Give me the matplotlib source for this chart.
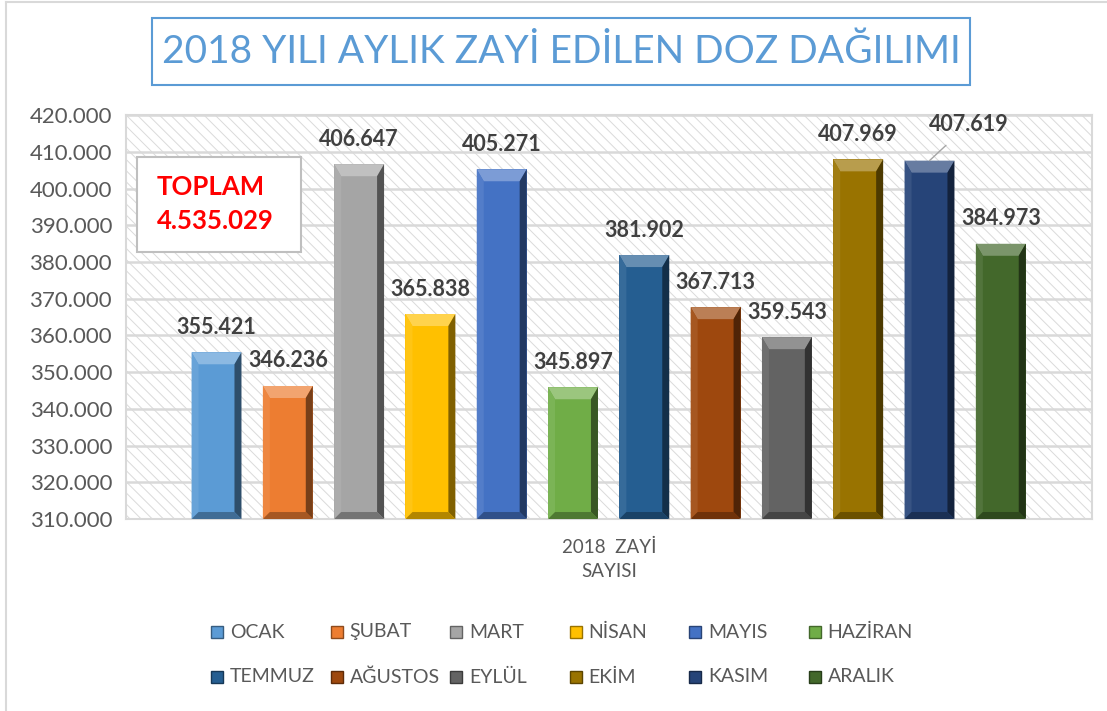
import matplotlib
matplotlib.use("Agg")
import matplotlib.pyplot as plt
from matplotlib.patches import Rectangle, Polygon
from matplotlib.lines import Line2D
from matplotlib.ticker import FuncFormatter
from matplotlib.colors import to_rgb
import numpy as np

plt.rcParams['font.family'] = ['Lato', 'DejaVu Sans']
plt.rcParams['hatch.color'] = '#DADADA'
plt.rcParams['hatch.linewidth'] = 0.7

# veriler
months = ["OCAK", "ŞUBAT", "MART", "NİSAN", "MAYIS", "HAZİRAN",
          "TEMMUZ", "AĞUSTOS", "EYLÜL", "EKİM", "KASIM", "ARALIK"]
values = [355421, 346236, 406647, 365838, 405271, 345897,
          381902, 367713, 359543, 407969, 407619, 384973]
colors = ["#5B9BD5", "#ED7D31", "#A5A5A5", "#FFC000", "#4472C4", "#70AD47",
          "#255E91", "#9E480E", "#636363", "#997300", "#264478", "#43682B"]
total_text = "TOPLAM\n4.535.029"
title = "2018 YILI AYLIK ZAYİ EDİLEN DOZ DAĞILIMI"
xlabel = "2018  ZAYİ\nSAYISI"


def fmt(v):
    return "{:,.0f}".format(v).replace(",", ".")


def mix(c, other, t):
    c = np.array(to_rgb(c))
    o = np.array(to_rgb(other))
    return tuple(c * (1 - t) + o * t)


def bevel(ax, bar, color, b=7, bt=12):
    ymin = ax.get_ylim()[0]
    x0, y0 = bar.get_x(), max(bar.get_y(), ymin)
    x1, y1 = x0 + bar.get_width(), bar.get_y() + bar.get_height()
    (L, B), (R, T) = ax.transData.transform([(x0, y0), (x1, y1)])
    inv = ax.transData.inverted()
    parts = [
        ([(L, T), (R, T), (R - b, T - bt), (L + b, T - bt)], mix(color, 'white', 0.3)),
        ([(L, T), (L, B), (L + b, B + b), (L + b, T - bt)], mix(color, 'white', 0.08)),
        ([(R, T), (R, B), (R - b, B + b), (R - b, T - bt)], mix(color, 'black', 0.5)),
        ([(L, B), (R, B), (R - b, B + b), (L + b, B + b)], mix(color, 'black', 0.3)),
    ]
    for pts, c in parts:
        ax.add_patch(Polygon(inv.transform(pts), closed=True, facecolor=c,
                             edgecolor='none', zorder=3))


fig = plt.figure(figsize=(11.07, 7.11), dpi=100)
ax = fig.add_axes([0.1138, 0.270, 0.8727, 0.568])

x = np.arange(len(values))
ax.set_xlim(-1.27, 12.28)
ax.set_ylim(310000, 420000)

# hatch background
ax.add_patch(Rectangle((0, 0), 1, 1, transform=ax.transAxes, facecolor='white',
                       edgecolor='#DADADA', hatch='\\\\\\', lw=0, zorder=0))
for s in ax.spines.values():
    s.set_color('#D9D9D9')
    s.set_linewidth(1.5)
ax.set_yticks(np.arange(310000, 420001, 10000))
ax.yaxis.set_major_formatter(FuncFormatter(lambda v, p: fmt(v)))
ax.grid(axis='y', color='#D9D9D9', lw=1.8, zorder=1)
ax.set_axisbelow(True)
ax.tick_params(axis='y', length=0, pad=10, labelsize=16, labelcolor='#595959')
ax.set_xticks([])

bars = ax.bar(x, values, width=0.70, color=colors, zorder=2)
for bar, c in zip(bars, colors):
    bevel(ax, bar, c)

for i, (bar, v) in enumerate(zip(bars, values)):
    cx = bar.get_x() + bar.get_width() / 2
    if months[i] == "KASIM":
        ax.annotate(fmt(v), (cx, v), xytext=(28, 26), textcoords='offset points',
                    ha='center', va='center', fontsize=15.5, fontweight='bold',
                    color='#404040', zorder=5,
                    arrowprops=dict(arrowstyle='-', color='#A6A6A6', lw=1,
                                    shrinkA=8, shrinkB=0))
    else:
        ax.annotate(fmt(v), (cx, v), xytext=(0, 18), textcoords='offset points',
                    ha='center', va='center', fontsize=15.5, fontweight='bold',
                    color='#404040', zorder=5)

ax.set_xlabel(xlabel, fontsize=13.5, color='#595959', labelpad=14, linespacing=1.5)

# toplam kutusu
ax.add_patch(Rectangle((0.0114, 0.661), 0.170, 0.235, transform=ax.transAxes,
                       facecolor='white', edgecolor='#BFBFBF', lw=1.5, zorder=6))
ax.text(0.032, 0.78, total_text, transform=ax.transAxes, fontsize=18.5,
        fontweight='bold', color='#FF0000', va='center', ha='left',
        linespacing=1.5, zorder=7)

# baslik
fig.add_artist(Rectangle((0.1373, 0.8805), 0.7389, 0.0942, transform=fig.transFigure,
                         facecolor='white', edgecolor='#5B9BD5', lw=1.5))
fig.text(0.507, 0.927, title, fontsize=28, color='#5B9BD5', ha='center', va='center')

# lejant
for i, (m, c) in enumerate(zip(months, colors)):
    col, row = i % 6, i // 6
    lx = (211 + col * 119.5) / 1107
    ly = 1 - (632 + row * 45) / 711
    sq = 12 / 1107
    sh = 12 / 711
    fig.add_artist(Rectangle((lx, ly - sh / 2), sq, sh, transform=fig.transFigure,
                             facecolor=c, edgecolor=mix(c, 'black', 0.4), lw=1))
    fig.text(lx + 19 / 1107, ly, m, fontsize=14, color='#595959', va='center', ha='left')

# cerceve
fig.add_artist(Line2D([6 / 1107, 6 / 1107], [0, 1 - 2 / 711], color='#D9D9D9', lw=1.5,
                      transform=fig.transFigure))
fig.add_artist(Line2D([6 / 1107, 1], [1 - 2 / 711, 1 - 2 / 711], color='#D9D9D9', lw=1.5,
                      transform=fig.transFigure))

fig.savefig("out.png", dpi=100)
